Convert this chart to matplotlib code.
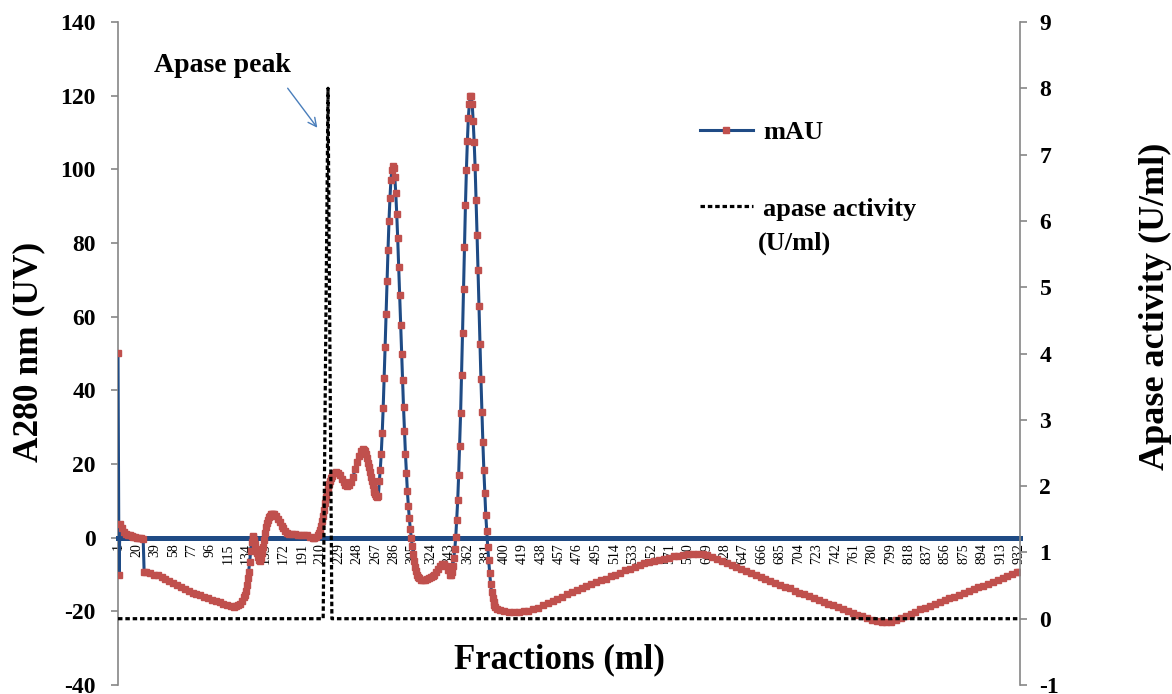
import matplotlib
matplotlib.use("Agg")
import matplotlib.pyplot as plt
from matplotlib.lines import Line2D

plt.rcParams['font.family'] = ['Liberation Serif', 'DejaVu Serif']

# mAU readings, split by region of the chromatogram
start_fraction = [1, 2, 3, 5, 7, 9, 11, 13, 15, 17, 19, 21, 23, 25, 27]
start_mau = [50, -10, 3.8, 2.6, 1.6, 1.1, 0.8, 0.6, 0.4, 0.2, 0.1, 0.0, -0.1, -0.2, -0.3]

slope_fraction = [28, 30, 34, 38, 42, 46, 50, 54, 58, 62, 66, 70, 74, 78, 82, 86, 90, 94,
                  98, 102, 106, 110, 114, 118, 121, 123, 125, 127, 129, 131, 132, 133,
                  134, 135, 136, 137, 138, 139, 140]
slope_mau = [-9.2, -9.4, -9.7, -10.0, -10.2, -10.6, -11.2, -11.8, -12.4, -12.9, -13.4, -13.9,
             -14.4, -14.9, -15.3, -15.7, -16.1, -16.5, -16.9, -17.3, -17.6, -17.9, -18.2,
             -18.5, -18.7, -18.6, -18.3, -17.9, -17.2, -16.2, -15.6, -14.4, -12.8, -11.0,
             -9.3, -6.5, -3.5, -1.2, 0.3]

shoulder_fraction = [141, 142, 143, 144, 145, 146, 147, 148, 149, 150, 151, 152, 153, 154,
                     155, 156, 157, 158, 159, 160, 161, 162, 164, 166, 168, 170, 172, 174,
                     176, 178, 181, 184, 187, 190, 193, 196, 199, 202, 204, 206, 208, 209,
                     210, 211, 212, 213, 214, 215, 216, 217, 218, 219, 220, 221, 222, 224,
                     226, 228, 230, 232, 234, 236, 238, 240, 242, 244, 246, 248, 250, 252,
                     254, 255, 256, 257, 258, 259, 260, 261, 262, 263, 264, 265, 266, 267,
                     268, 269]
shoulder_mau = [0.5, -0.5, -1.8, -3.0, -4.2, -5.3, -6.0, -6.2, -5.6, -4.2, -2.4, -0.6, 1.2,
                2.8, 4.0, 4.9, 5.6, 6.0, 6.3, 6.5, 6.5, 6.3, 5.8, 5.0, 4.2, 3.3, 2.5, 1.8,
                1.3, 1.0, 0.9, 0.9, 0.8, 0.8, 0.7, 0.6, 0.3, 0.0, -0.1, 0.1, 0.6, 1.3,
                2.2, 3.3, 4.6, 6.0, 7.5, 9.3, 11.0, 12.4, 13.6, 14.6, 15.5, 16.2, 16.8, 17.6,
                17.9, 17.6, 16.9, 16.0, 15.1, 14.4, 14.0, 14.2, 15.0, 16.6, 18.6, 20.6, 22.3,
                23.5, 24.0, 23.9, 23.4, 22.6, 21.6, 20.4, 19.1, 17.8, 16.5, 15.3, 14.2, 13.2,
                12.4, 11.8, 11.3, 11.0]

peak1_fraction = list(range(270, 306))
peak1_mau = [11.2, 15.3, 18.5, 22.8, 28.4, 35.2, 43.3, 51.9, 60.8, 69.6, 78.2, 86.0,
             92.2, 97.1, 99.9, 101.0,
             100.3, 97.9, 93.5, 87.9, 81.3, 73.6, 65.9, 57.8, 49.9, 42.7, 35.5, 28.9,
             22.8, 17.5, 12.6, 8.7, 5.3, 2.4, 0.0, -2.3]

trough_fraction = [306, 307, 308, 309, 310, 311, 312, 314, 316, 318, 320, 322, 324, 326,
                   328, 330, 332, 334, 336, 338, 340, 342, 344, 345, 346, 347, 348, 349]
trough_mau = [-4.4, -6.3, -7.9, -9.1, -10.0, -10.6, -11.0, -11.4, -11.5, -11.5, -11.3,
              -11.0, -10.7, -10.4, -10.0, -9.4, -8.6, -7.8, -7.2, -7.1, -7.7, -8.9, -10.0,
              -10.1, -9.2, -7.6, -5.5, -3.1]

peak2_fraction = list(range(350, 384))
peak2_mau = [0.2, 4.9, 10.1, 17.1, 25.0, 33.8, 44.2, 55.7, 67.5, 79.0, 90.3, 99.9,
             107.7, 114.0, 117.7, 120.0,
             119.8, 117.7, 113.0, 107.5, 100.6, 91.7, 82.2, 72.7, 62.8, 52.6, 43.1, 34.0,
             25.9, 18.5, 12.1, 6.2, 1.7, -2.4]

tail_fraction = [384, 385, 386, 387, 388, 389, 390, 391, 393, 396] + list(range(400, 931, 5)) + [932]
tail_mau = [-6.0, -9.5, -12.5, -14.8, -16.4, -17.5, -18.3, -18.8, -19.3, -19.7,
            -20.0, -20.2, -20.2, -20.1, -20.0, -19.8, -19.4, -19.0, -18.4, -17.8,
            -17.2, -16.6, -16.0, -15.4, -14.8, -14.3, -13.8, -13.2, -12.7, -12.1,
            -11.6, -11.1, -10.5, -10.0, -9.5, -8.9, -8.4, -7.9, -7.4, -7.0,
            -6.6, -6.3, -6.0, -5.7, -5.4, -5.1, -4.9, -4.7, -4.5, -4.4,
            -4.4, -4.5, -4.8, -5.2, -5.7, -6.2, -6.8, -7.4, -8.0, -8.6,
            -9.1, -9.7, -10.2, -10.7, -11.2, -11.7, -12.2, -12.8, -13.3, -13.8,
            -14.4, -14.9, -15.4, -15.9, -16.4, -16.9, -17.4, -17.9, -18.4, -18.9,
            -19.4, -19.9, -20.4, -20.9, -21.4, -21.9, -22.3, -22.7, -22.9, -23.0,
            -22.8, -22.4, -21.9, -21.3, -20.7, -20.1, -19.5, -19.0, -18.5, -18.0,
            -17.5, -17.0, -16.5, -16.0, -15.5, -15.0, -14.5, -14.0, -13.5, -13.0,
            -12.5, -12.0, -11.5, -10.9, -10.4, -9.9, -9.4,
            -9.2]

fraction = (start_fraction + slope_fraction + shoulder_fraction + peak1_fraction
            + trough_fraction + peak2_fraction + tail_fraction)
mau = start_mau + slope_mau + shoulder_mau + peak1_mau + trough_mau + peak2_mau + tail_mau

# apase activity (U/ml), only one peak
apase_fraction = [1, 213, 218, 222, 932]
apase = [0, 0, 8, 0, 0]

tick_fraction = list(range(1, 933, 19))

blue = '#1F4B85'
red = '#C0504D'
grey = '#868686'

fig = plt.figure(figsize=(11.72, 6.94), dpi=100)
ax = fig.add_axes([118 / 1172, 9 / 694, 902 / 1172, 663 / 694])

ax.plot(fraction, mau, color=blue, lw=2.2, marker='s', ms=4.8, mfc=red, mec=red,
        label='mAU', zorder=3)

ax.set_xlim(1, 933)
ax.set_ylim(-40, 140)
ax.set_yticks(range(-40, 141, 20))
ax.set_yticklabels([str(v) for v in range(-40, 141, 20)], fontsize=17, fontweight='bold')
ax.set_xticks(tick_fraction)
ax.set_xticklabels([str(v) for v in tick_fraction], fontsize=11)

ax.spines['top'].set_visible(False)
ax.spines['right'].set_visible(False)
ax.spines['bottom'].set_position(('data', 0))
ax.spines['bottom'].set_color(blue)
ax.spines['bottom'].set_linewidth(3.6)
ax.spines['left'].set_color(grey)
ax.spines['left'].set_linewidth(1.2)
ax.tick_params(axis='x', length=0, pad=4, labelrotation=90)
ax.tick_params(axis='y', direction='out', length=5, color=grey, width=1.2, pad=11)

# second axis for the enzyme activity
ax2 = ax.twinx()
ax2.plot(apase_fraction, apase, color='black', lw=2.3, ls=(0, (1.4, 0.9)),
         label='apase activity')
ax2.set_ylim(-1, 9)
ax2.set_yticks(range(-1, 10))
ax2.set_yticklabels([str(v) for v in range(-1, 10)], fontsize=17, fontweight='bold')
for s in ['top', 'left', 'bottom']:
    ax2.spines[s].set_visible(False)
ax2.spines['right'].set_color(grey)
ax2.spines['right'].set_linewidth(1.2)
ax2.tick_params(axis='y', direction='out', length=5, color=grey, width=1.2, pad=9)

# axis titles
fig.text(29 / 1172, 1 - 352 / 694, 'A280 nm (UV)', rotation=90, fontsize=25.5,
         fontweight='bold', ha='center', va='center')
fig.text(1155 / 1172, 1 - 306 / 694, 'Apase activity (U/ml)', rotation=90, fontsize=26,
         fontweight='bold', ha='center', va='center')
fig.text(559 / 1172, 1 - 660 / 694, 'Fractions (ml)', fontsize=25,
         fontweight='bold', ha='center', va='center')

# legend
handles = [Line2D([], [], color=blue, lw=2.2, marker='s', ms=4.8, mfc=red, mec=red),
           Line2D([], [], color='black', lw=2.3, ls=(0, (1.4, 0.9)))]
fig.legend(handles, ['mAU', 'apase activity'], loc='upper left',
           bbox_to_anchor=(700 / 1172, 1 - 121 / 694), frameon=False,
           prop={'size': 19, 'weight': 'bold'}, handlelength=2.0, handletextpad=0.4,
           labelspacing=2.0, borderpad=0, borderaxespad=0)
fig.text(758 / 1172, 1 - 243 / 694, '(U/ml)', fontsize=19, fontweight='bold',
         ha='left', va='center')

# annotation of the activity peak
fig.text(222 / 1172, 1 - 66 / 694, 'Apase peak', fontsize=20, fontweight='bold',
         ha='center', va='center')
ax.annotate('', xy=(319, 694 - 130), xytext=(286, 694 - 86), xycoords='figure pixels',
            textcoords='figure pixels',
            arrowprops=dict(arrowstyle='->', color='#4A7EBB', lw=1, mutation_scale=15))

fig.savefig('out.png', dpi=100)
